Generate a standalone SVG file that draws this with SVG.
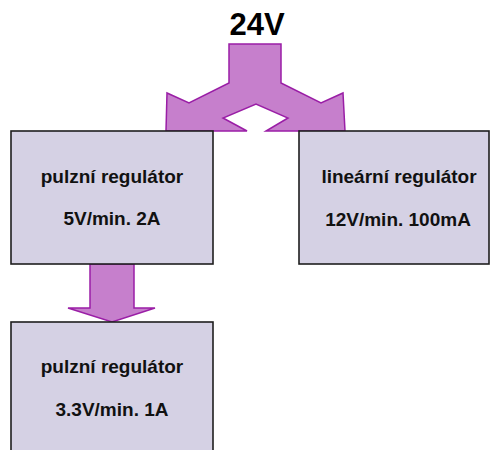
<svg xmlns="http://www.w3.org/2000/svg" width="491" height="450" viewBox="0 0 491 450">
<style>
.box{fill:#d5d1e4;stroke:#1e1e1e;stroke-width:1.6}
.arrow{fill:#c67fcc;stroke:#9a1ea6;stroke-width:1.5;stroke-linejoin:miter}
.t{font-family:"Liberation Sans",Arial,sans-serif;font-weight:bold;font-size:19px;fill:#111;text-anchor:middle}
.title{font-family:"Liberation Sans",Arial,sans-serif;font-weight:bold;font-size:31px;fill:#000;text-anchor:middle}
</style>
<rect width="491" height="450" fill="#fff"/>
<text class="title" x="257" y="35">24V</text>
<g id="connectors">
<polygon class="arrow" points="229,44 281,44 281,83 321,103 343,93 345,131 266,131 288,118 256,104 223,118 247,131 166,131 167,93 189,103 229,83"/>
<polygon class="arrow" points="90,264 134,264 134,308 155,308 112,322 68,308 90,308"/>
</g>
<g id="node1">
<rect class="box" x="11" y="131" width="202" height="133"/>
<text class="t" x="112" y="183">pulzní regulátor</text>
<text class="t" x="112" y="225">5V/min. 2A</text>
</g>
<g id="node2">
<rect class="box" x="299" y="131" width="190" height="133"/>
<text class="t" x="399" y="183">lineární regulátor</text>
<text class="t" x="398" y="226">12V/min. 100mA</text>
</g>
<g id="node3">
<rect class="box" x="11" y="322" width="202" height="140"/>
<text class="t" x="112" y="373">pulzní regulátor</text>
<text class="t" x="112" y="416">3.3V/min. 1A</text>
</g>
</svg>
